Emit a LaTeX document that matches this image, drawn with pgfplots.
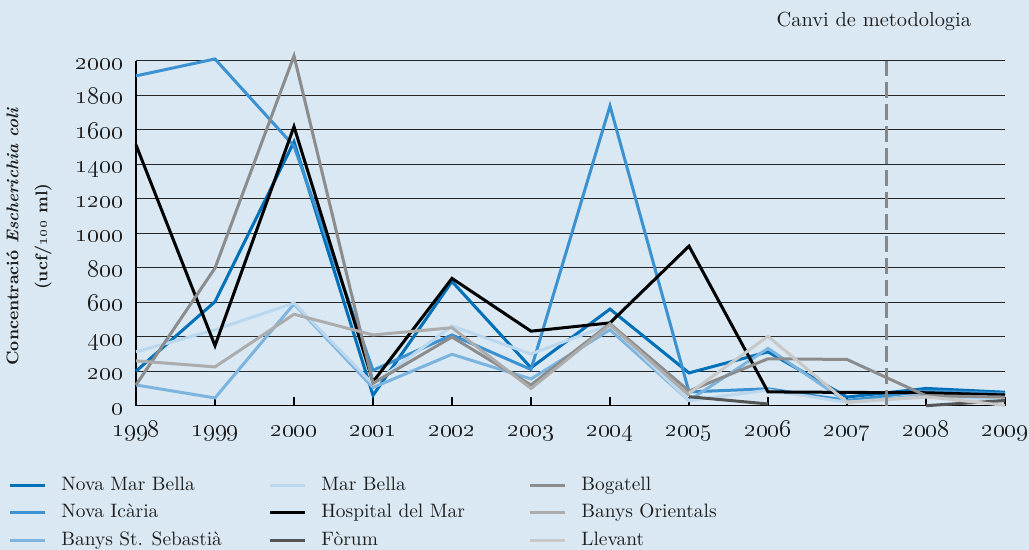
\documentclass[border=0pt]{standalone}
\usepackage{pgfplots}
\pgfplotsset{compat=1.18}

\definecolor{bg}{RGB}{217,232,243}
\definecolor{cNMB}{RGB}{0,112,184}
\definecolor{cNI}{RGB}{60,146,208}
\definecolor{cBSS}{RGB}{125,180,222}
\definecolor{cMB}{RGB}{186,215,238}
\definecolor{cHM}{RGB}{0,0,0}
\definecolor{cFor}{RGB}{85,85,85}
\definecolor{cBog}{RGB}{140,140,140}
\definecolor{cBO}{RGB}{172,172,172}
\definecolor{cLle}{RGB}{200,200,200}
\definecolor{txt}{RGB}{30,30,30}

\newcommand{\legtxt}[1]{\makebox[103.5pt][l]{#1}}

\begin{document}
\begin{tikzpicture}
\fill[bg] (-68pt,-72.15pt) rectangle (446.5pt,202.85pt);
\useasboundingbox (-68pt,-72.15pt) rectangle (446.5pt,202.85pt);
\begin{axis}[
    at={(0,0)}, anchor=south west,
    scale only axis, width=434.5pt, height=172.5pt,
    xmin=1998, xmax=2009, ymin=0, ymax=2000,
    clip=false,
    axis lines*=left,
    axis line style={black, line width=0.7pt},
    xtick={1998,...,2009},
    xticklabels={\oldstylenums{1998},\oldstylenums{1999},\oldstylenums{2000},\oldstylenums{2001},\oldstylenums{2002},\oldstylenums{2003},\oldstylenums{2004},\oldstylenums{2005},\oldstylenums{2006},\oldstylenums{2007},\oldstylenums{2008},\oldstylenums{2009}},
    ytick={0,200,...,2000},
    yticklabels={\oldstylenums{0},\oldstylenums{200},\oldstylenums{400},\oldstylenums{600},\oldstylenums{800},\oldstylenums{1000},\oldstylenums{1200},\oldstylenums{1400},\oldstylenums{1600},\oldstylenums{1800},\oldstylenums{2000}},
    tick align=inside,
    major tick length=4.5pt,
    x tick style={black, line width=0.8pt},
    y tick style={draw=none},
    ymajorgrids,
    grid style={black!85, line width=0.6pt},
    tick label style={font=\fontsize{12}{14}\selectfont, text=txt},
    xticklabel style={anchor=base, yshift=-15.5pt},
    yticklabel style={anchor=base east, yshift=-4.3pt, xshift=-3pt},
    ylabel={\textbf{Concentració \textit{Escherichia coli}}\\\textbf{(ucf/\oldstylenums{100} ml)}},
    ylabel style={at={(axis description cs:-0.123,0.49)}, anchor=center, align=center, font=\fontsize{8.5}{14.5}\selectfont, text=txt},
    every axis plot/.append style={line width=1.5pt, no markers},
    unbounded coords=jump,
    legend image code/.code={\draw[#1] (0pt,0pt) -- (17.5pt,0pt); \path (25pt,0pt);},
    legend columns=3, transpose legend,
    legend style={at={(-0.1473,-0.2038)}, anchor=north west, draw=none, fill=none,
        font=\fontsize{9.7}{12}\selectfont, text=txt, row sep=4.75pt, column sep=0pt,
        inner sep=0pt, nodes={inner sep=0pt, text height=7pt, text depth=2pt}},
    legend cell align=left,
]

% Nova Mar Bella
\addplot[cNMB] coordinates {(1998,200) (1999,603) (2000,1530) (2001,60) (2002,720) (2003,220) (2004,560) (2005,190) (2006,312) (2007,50) (2008,100) (2009,78)};
\addlegendentry{\legtxt{Nova Mar Bella}}
% Nova Icària
\addplot[cNI] coordinates {(1998,1912) (1999,2010) (2000,1505) (2001,205) (2002,410) (2003,210) (2004,1738) (2005,80) (2006,98) (2007,30) (2008,85) (2009,70)};
\addlegendentry{\legtxt{Nova Icària}}
% Banys St. Sebastià
\addplot[cBSS] coordinates {(1998,120) (1999,45) (2000,590) (2001,105) (2002,298) (2003,155) (2004,440) (2005,30) (2006,332) (2007,20) (2008,60) (2009,50)};
\addlegendentry{\legtxt{Banys St. Sebastià}}
% Mar Bella
\addplot[cMB] coordinates {(1998,312) (1999,440) (2000,595) (2001,125) (2002,462) (2003,300) (2004,470) (2005,30) (2006,90) (2007,20) (2008,50) (2009,40)};
\addlegendentry{\legtxt{Mar Bella}}
% Hospital del Mar
\addplot[cHM] coordinates {(1998,1512) (1999,348) (2000,1618) (2001,138) (2002,738) (2003,432) (2004,480) (2005,925) (2006,80) (2007,77) (2008,75) (2009,62)};
\addlegendentry{\legtxt{Hospital del Mar}}
% Fòrum
\addplot[cFor] coordinates {(2005,52) (2006,10) (2007,nan) (2008,0) (2009,30)};
\addlegendentry{\legtxt{Fòrum}}
% Bogatell
\addplot[cBog] coordinates {(1998,120) (1999,798) (2000,2028) (2001,130) (2002,398) (2003,120) (2004,475) (2005,85) (2006,272) (2007,268) (2008,58) (2009,50)};
\addlegendentry{Bogatell}
% Banys Orientals
\addplot[cBO] coordinates {(1998,260) (1999,225) (2000,530) (2001,410) (2002,452) (2003,100) (2004,468) (2005,60)};
\addlegendentry{Banys Orientals}
% Llevant
\addplot[cLle] coordinates {(2005,72) (2006,402) (2007,20) (2008,52) (2009,2)};
\addlegendentry{Llevant}

% canvi de metodologia
\draw[color={rgb,255:red,135;green,135;blue,135}, line width=1.8pt, dash pattern=on 8pt off 3pt]
    (axis cs:2007.5,0) -- (axis cs:2007.5,2000);
\node[font=\fontsize{10.2}{12}\selectfont, text=txt] at (axis cs:2007.34,2225) {Canvi de metodologia};

\end{axis}
\end{tikzpicture}
\end{document}
